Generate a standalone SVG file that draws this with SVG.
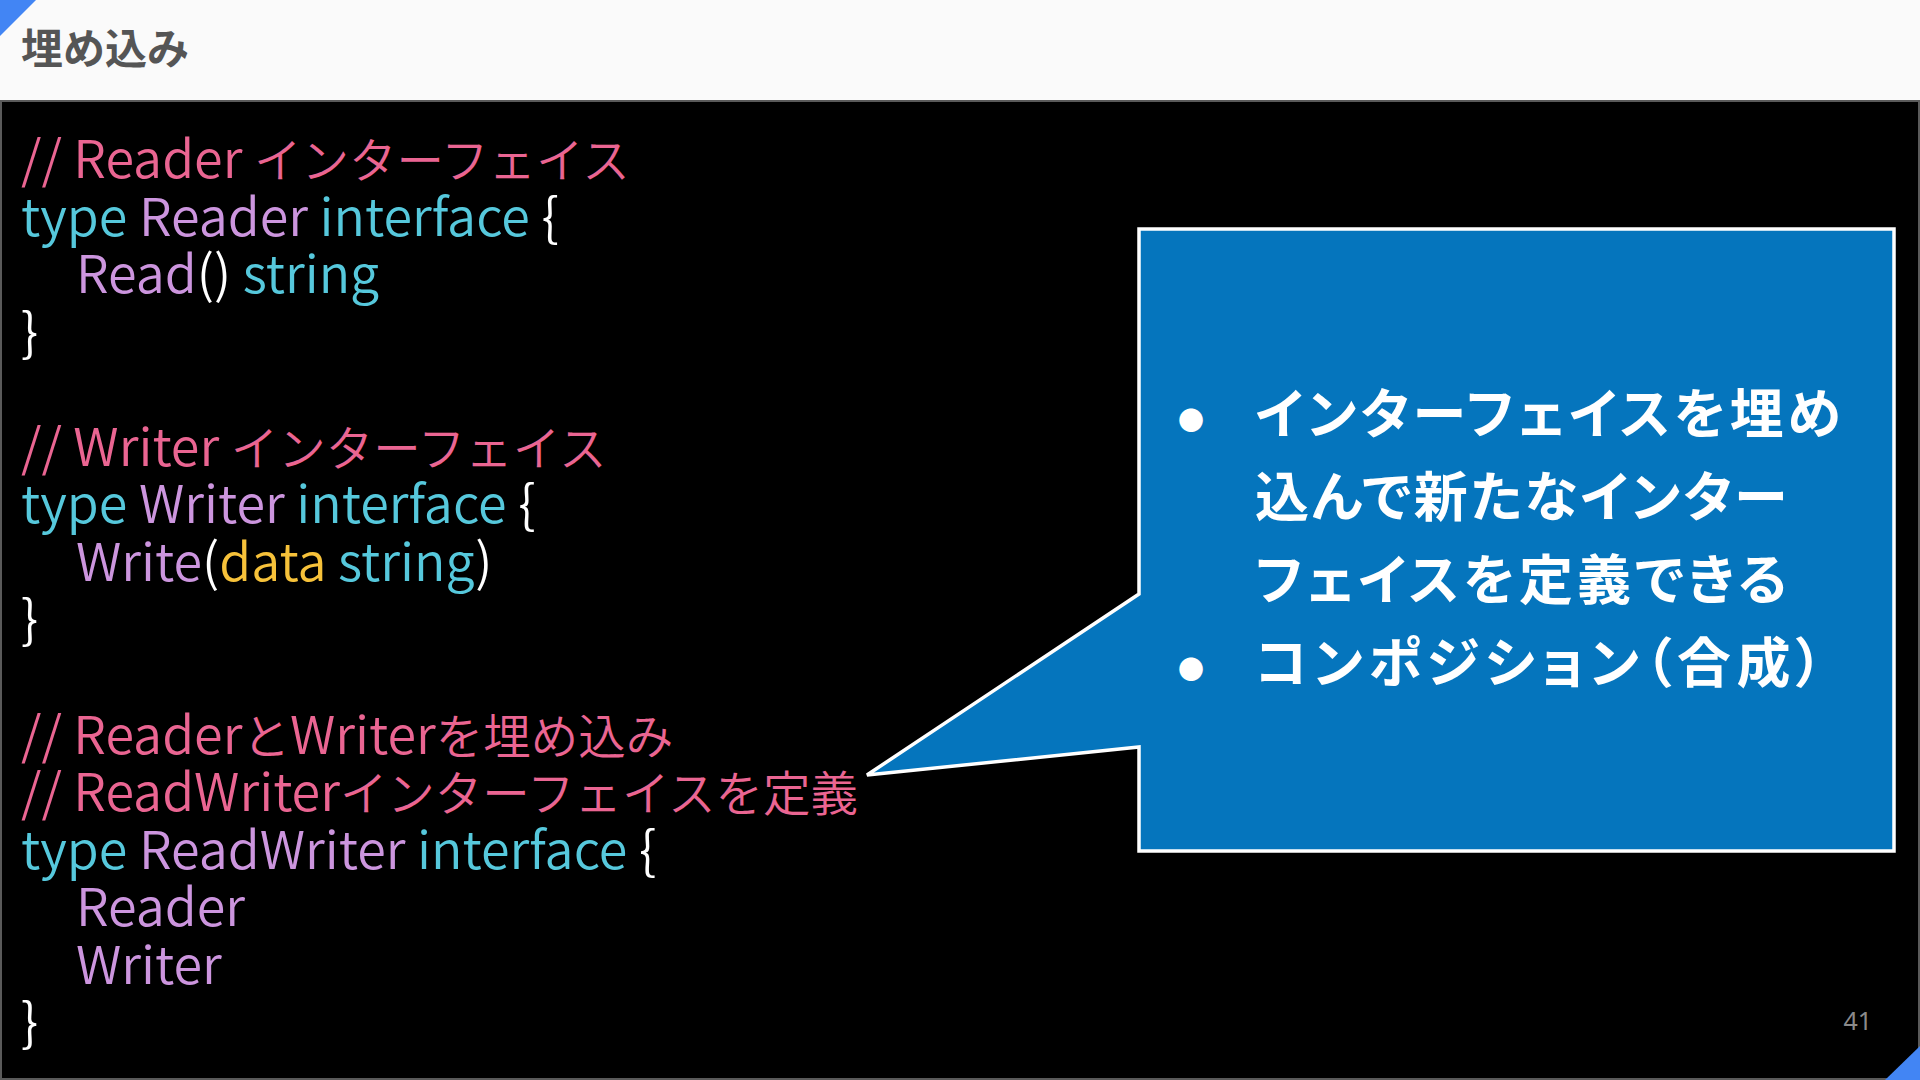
<svg xmlns="http://www.w3.org/2000/svg" width="1920" height="1080" viewBox="0 0 1920 1080">
<style>
.code{font-family:"Noto Sans CJK JP","Noto Sans",sans-serif;font-size:52px;font-weight:350;}
.j{font-size:47.5px;}
.cm{fill:#ea6592;}
.kw{fill:#56c8dc;}
.id{fill:#cc95de;}
.pn{fill:#ffffff;}
.ar{fill:#f7c23a;}
.bul{font-family:"Noto Sans CJK JP","Noto Sans",sans-serif;font-size:54px;font-weight:bold;fill:#ffffff;font-feature-settings:"palt";}
.dot{font-family:"Noto Sans CJK JP",sans-serif;font-size:26px;fill:#ffffff;}
.corner{fill:#4285f4;}
</style>
<rect x="0" y="0" width="1920" height="1080" fill="#000000"/>
<g id="header">
<rect x="0" y="0" width="1920" height="101" fill="#fafafa"/>
<polygon class="corner" points="0,0 36,0 0,36"/>
<text x="21" y="64" font-family="Noto Sans CJK JP,sans-serif" font-size="42" font-weight="bold" fill="#555555">埋め込み</text>
</g>
<g id="code-block">
<rect x="1" y="101" width="1918" height="978" fill="#000000" stroke="#5a5a5a" stroke-width="2"/>
<text class="code" x="21" y="178"><tspan class="cm">// Reader <tspan class="j">インターフェイス</tspan></tspan></text>
<text class="code" x="21" y="235.5"><tspan class="kw">type </tspan><tspan class="id">Reader </tspan><tspan class="kw">interface </tspan><tspan class="pn">{</tspan></text>
<text class="code" x="76" y="293"><tspan class="id">Read</tspan><tspan class="pn">() </tspan><tspan class="kw">string</tspan></text>
<text class="code" x="21" y="350.5"><tspan class="pn">}</tspan></text>
<text class="code" x="21" y="465.7"><tspan class="cm">// Writer <tspan class="j">インターフェイス</tspan></tspan></text>
<text class="code" x="21" y="523.3"><tspan class="kw">type </tspan><tspan class="id">Writer </tspan><tspan class="kw">interface </tspan><tspan class="pn">{</tspan></text>
<text class="code" x="76" y="580.8"><tspan class="id">Write</tspan><tspan class="pn">(</tspan><tspan class="ar">data </tspan><tspan class="kw">string</tspan><tspan class="pn">)</tspan></text>
<text class="code" x="21" y="638.4"><tspan class="pn">}</tspan></text>
<text class="code" x="21" y="753.5"><tspan class="cm">// Reader<tspan class="j">と</tspan>Writer<tspan class="j">を埋め込み</tspan></tspan></text>
<text class="code" x="21" y="811"><tspan class="cm">// ReadWriter<tspan class="j">インターフェイスを定義</tspan></tspan></text>
<text class="code" x="21" y="868.6"><tspan class="kw">type </tspan><tspan class="id">ReadWriter </tspan><tspan class="kw">interface </tspan><tspan class="pn">{</tspan></text>
<text class="code" x="76" y="926.1"><tspan class="id">Reader</tspan></text>
<text class="code" x="76" y="983.7"><tspan class="id">Writer</tspan></text>
<text class="code" x="21" y="1041.2"><tspan class="pn">}</tspan></text>
</g>
<g id="callout">
<path d="M1139,229 H1894 V851 H1139 V747 L867,775 L1139,594 Z" fill="#0575bd" stroke="#ffffff" stroke-width="3.5" stroke-linejoin="miter"/>
<text class="dot" x="1191" y="430" text-anchor="middle">●</text>
<text class="bul" x="1255" y="434" textLength="586" lengthAdjust="spacing">インターフェイスを埋め</text>
<text class="bul" x="1255" y="517" textLength="532" lengthAdjust="spacing">込んで新たなインター</text>
<text class="bul" x="1255" y="600" textLength="532" lengthAdjust="spacing">フェイスを定義できる</text>
<text class="dot" x="1191" y="679" text-anchor="middle">●</text>
<text class="bul" x="1255" y="683" textLength="568" lengthAdjust="spacing">コンポジション（合成）</text>
</g>
<g id="footer">
<text x="1872" y="1030" text-anchor="end" font-family="Noto Sans,sans-serif" font-size="25" fill="#8a8a8a">41</text>
<polygon class="corner" points="1885,1080 1920,1046 1920,1080"/>
</g>
</svg>
